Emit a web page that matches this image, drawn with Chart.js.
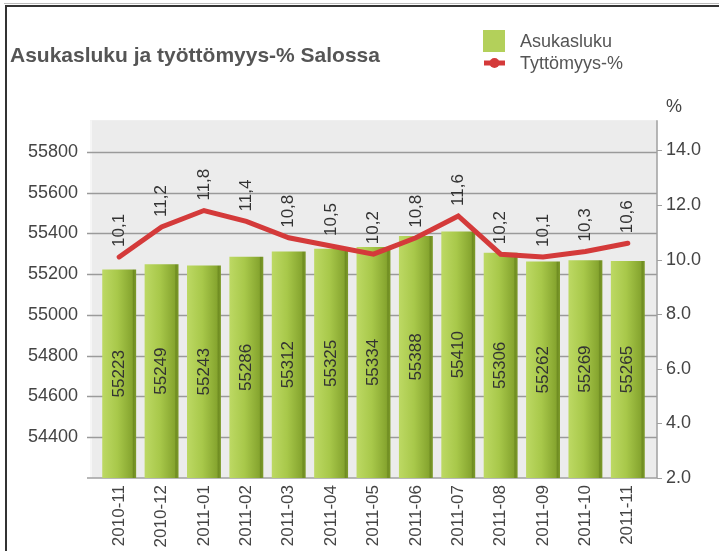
<!DOCTYPE html>
<html>
<head>
<meta charset="utf-8">
<script src="https://cdn.jsdelivr.net/npm/chart.js@4.4.0/dist/chart.umd.min.js"></script>
<style>
html,body{margin:0;padding:0;background:#fff;}
#c{display:block;}
</style>
</head>
<body>
<canvas id="c" width="719" height="551"></canvas>
<script>
const titleText = 'Asukasluku ja työttömyys-% Salossa';
const categories = ['2010-11','2010-12','2011-01','2011-02','2011-03','2011-04','2011-05','2011-06','2011-07','2011-08','2011-09','2011-10','2011-11'];
const population = [55223,55249,55243,55286,55312,55325,55334,55388,55410,55306,55262,55269,55265];
const unemployment = [10.1,11.2,11.8,11.4,10.8,10.5,10.2,10.8,11.6,10.2,10.1,10.3,10.6];
const leftTicks = [54400,54600,54800,55000,55200,55400,55600,55800];
const rightTicks = [2,4,6,8,10,12,14];
const seriesNames = ['Asukasluku','Tyttömyys-%'];
const rightUnit = '%';

const FONT = '"Liberation Sans", Arial, sans-serif';
const TXT = '#444';

const decor = {
  id: 'decor',
  beforeDraw(chart) {
    const ctx = chart.ctx, a = chart.chartArea;
    const ys = chart.scales.y, yr = chart.scales.y1;
    ctx.save();
    ctx.fillStyle = '#fff';
    ctx.fillRect(0, 0, chart.width, chart.height);
    // frame
    ctx.fillStyle = '#bbb';
    ctx.fillRect(4, 3, chart.width - 4, 1);
    ctx.fillStyle = '#333';
    ctx.fillRect(5, 5, chart.width - 5, 2);
    ctx.fillRect(5, 5, 2, chart.height - 5);
    // plot background
    const L = a.left - 8, R = a.right + 8, T = a.top, B = a.bottom;
    ctx.fillStyle = '#ececec';
    ctx.fillRect(L, T, R - L, B - T);
    ctx.fillStyle = '#f6f6f6';
    ctx.fillRect(L, T, 2, B - T);
    // gridlines from left axis ticks
    ctx.strokeStyle = '#9a9a9a';
    ctx.lineWidth = 1.5;
    leftTicks.forEach(v => {
      const y = Math.round(ys.getPixelForValue(v)) + 0.5;
      ctx.beginPath(); ctx.moveTo(L - 3, y); ctx.lineTo(R, y); ctx.stroke();
    });
    // border right and bottom
    ctx.strokeStyle = '#a0a0a0';
    ctx.lineWidth = 1.5;
    ctx.beginPath(); ctx.moveTo(R, T); ctx.lineTo(R, B); ctx.lineTo(L - 3, B); ctx.stroke();
    // right axis tick stubs
    ctx.lineWidth = 1;
    rightTicks.forEach(v => {
      const y = Math.round(yr.getPixelForValue(v)) + 0.5;
      ctx.beginPath(); ctx.moveTo(R, y); ctx.lineTo(R + 5, y); ctx.stroke();
    });
    ctx.restore();
  },
  afterDatasetsDraw(chart) {
    const ctx = chart.ctx;
    const ys = chart.scales.y;
    const xs = chart.scales.x;
    const yr = chart.scales.y1;
    const bottom = chart.chartArea.bottom;
    ctx.save();
    ctx.fillStyle = '#333';
    ctx.font = '17px ' + FONT;
    // bar labels (centered in bar, vertical)
    population.forEach((v, i) => {
      const x = xs.getPixelForValue(i);
      const top = ys.getPixelForValue(v);
      const cy = (top + bottom) / 2;
      ctx.save();
      ctx.translate(x, cy);
      ctx.rotate(-Math.PI / 2);
      ctx.textAlign = 'center';
      ctx.textBaseline = 'middle';
      ctx.fillText(String(v), 0, 0);
      ctx.restore();
    });
    // line labels above points
    unemployment.forEach((v, i) => {
      const x = xs.getPixelForValue(i);
      const y = yr.getPixelForValue(v);
      ctx.save();
      ctx.translate(x, y - 10);
      ctx.rotate(-Math.PI / 2);
      ctx.textAlign = 'left';
      ctx.textBaseline = 'middle';
      ctx.fillText(v.toFixed(1).replace('.', ','), 0, 0);
      ctx.restore();
    });
    ctx.restore();
  },
  afterDraw(chart) {
    const ctx = chart.ctx;
    ctx.save();
    // legend
    ctx.fillStyle = '#b3d05a';
    ctx.fillRect(483, 30, 22, 22);
    ctx.strokeStyle = '#d43a3a';
    ctx.lineWidth = 5;
    ctx.beginPath(); ctx.moveTo(484, 63); ctx.lineTo(505, 63); ctx.stroke();
    ctx.fillStyle = '#d43a3a';
    ctx.beginPath(); ctx.arc(494.5, 63, 5, 0, Math.PI * 2); ctx.fill();
    ctx.fillStyle = '#555';
    ctx.font = '18px ' + FONT;
    ctx.textAlign = 'left';
    ctx.textBaseline = 'middle';
    ctx.fillText(seriesNames[0], 520, 42);
    ctx.fillText(seriesNames[1], 520, 64);
    // unit label for right axis
    ctx.fillStyle = TXT;
    ctx.fillText(rightUnit, 666, 107);
    ctx.restore();
  }
};

const barFill = (c) => {
  const chart = c.chart;
  const xs = chart.scales && chart.scales.x;
  if (!xs || c.dataIndex === undefined || !chart.chartArea) return '#a5c545';
  const cx = xs.getPixelForValue(c.dataIndex);
  const w = 34;
  const g = chart.ctx.createLinearGradient(cx - w / 2, 0, cx + w / 2, 0);
  g.addColorStop(0, '#bdd964');
  g.addColorStop(0.45, '#a8c84a');
  g.addColorStop(0.88, '#86a52f');
  g.addColorStop(0.92, '#6f8c22');
  g.addColorStop(1, '#7e9c2a');
  return g;
};

new Chart(document.getElementById('c'), {
  type: 'bar',
  data: {
    labels: categories,
    datasets: [
      {
        type: 'line',
        label: seriesNames[1],
        data: unemployment,
        yAxisID: 'y1',
        order: 0,
        borderColor: '#d43a3a',
        borderWidth: 5,
        pointRadius: 0,
        pointHoverRadius: 0,
        tension: 0,
        borderCapStyle: 'round',
        borderJoinStyle: 'miter',
        fill: false
      },
      {
        type: 'bar',
        label: seriesNames[0],
        data: population,
        yAxisID: 'y',
        order: 1,
        backgroundColor: barFill,
        borderWidth: 0,
        categoryPercentage: 1,
        barPercentage: 0.8
      }
    ]
  },
  options: {
    responsive: false,
    animation: false,
    events: [],
    layout: { padding: { left: 10, right: 0, top: 0, bottom: 0 } },
    plugins: {
      legend: { display: false },
      tooltip: { enabled: false },
      title: {
        display: true,
        text: titleText,
        align: 'start',
        color: '#555',
        font: { family: FONT, size: 21, weight: 'bold', lineHeight: 1.2 },
        padding: { top: 44, bottom: 51 }
      }
    },
    scales: {
      x: {
        offset: true,
        grid: { display: false, drawTicks: false },
        border: { display: false },
        ticks: {
          autoSkip: false, minRotation: 90, maxRotation: 90, padding: 7,
          color: TXT, font: { family: FONT, size: 17 }
        },
        afterFit: s => { s.height = 73; }
      },
      y: {
        position: 'left',
        min: 54200,
        max: 55956,
        grid: { display: false, drawTicks: false },
        border: { display: false },
        ticks: {
          padding: 20, color: TXT, font: { family: FONT, size: 18 },
          callback: v => String(Math.round(v))
        },
        afterBuildTicks: s => { s.ticks = leftTicks.map(v => ({ value: v })); },
        afterFit: s => { s.width = 88; }
      },
      y1: {
        position: 'right',
        min: 2,
        max: 15.11,
        grid: { display: false, drawTicks: false },
        border: { display: false },
        ticks: {
          padding: 17, color: TXT, font: { family: FONT, size: 18 },
          callback: v => Number(v).toFixed(1)
        },
        afterBuildTicks: s => { s.ticks = rightTicks.map(v => ({ value: v })); },
        afterFit: s => { s.width = 70; }
      }
    }
  },
  plugins: [decor]
});
</script>
</body>
</html>
